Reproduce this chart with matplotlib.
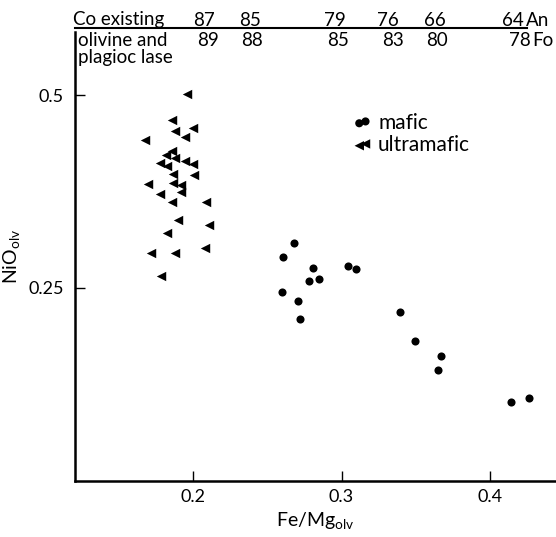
import matplotlib
matplotlib.use("Agg")
from matplotlib import pyplot as plt
from matplotlib.lines import Line2D

plt.rcParams['font.family'] = ['Lato', 'DejaVu Sans']
plt.rcParams['mathtext.fontset'] = 'custom'
plt.rcParams['mathtext.rm'] = 'Lato'

# mafic samples (circles)
mafic_fe_mg = [0.268, 0.261, 0.281, 0.304, 0.310, 0.278, 0.285, 0.260,
               0.271, 0.272, 0.339, 0.349, 0.367, 0.365, 0.414, 0.426]
mafic_nio = [0.308, 0.290, 0.276, 0.278, 0.275, 0.259, 0.261, 0.245,
             0.233, 0.209, 0.219, 0.181, 0.161, 0.144, 0.102, 0.107]

# ultramafic samples (triangles)
ultra_fe_mg = [0.196, 0.186, 0.200, 0.188, 0.195, 0.168, 0.186, 0.182,
               0.188, 0.195, 0.200, 0.178, 0.183, 0.187, 0.201, 0.170,
               0.187, 0.192, 0.192, 0.178, 0.186, 0.209, 0.190, 0.211,
               0.183, 0.208, 0.172, 0.188, 0.179]
ultra_nio = [0.502, 0.468, 0.458, 0.454, 0.446, 0.442, 0.428, 0.422,
             0.418, 0.415, 0.411, 0.412, 0.408, 0.398, 0.397, 0.385,
             0.386, 0.383, 0.374, 0.372, 0.362, 0.362, 0.338, 0.331,
             0.321, 0.302, 0.295, 0.295, 0.266]

x_ticks = [0.2, 0.3, 0.4]
y_ticks = [0.25, 0.5]

# coexisting plagioclase An / olivine Fo scale along the top
an_labels = ["87", "85", "79", "76", "66", "64"]
fo_labels = ["89", "88", "85", "83", "80", "78"]

W, H = 556, 537
fig = plt.figure(figsize=(W / 100, H / 100), dpi=100)


def fx(px):
    return px / W


def fy(py):
    return 1 - py / H


ax = fig.add_axes([fx(75), fy(480.5), fx(556) - fx(75), fy(32) - fy(480.5)])

ax.scatter(mafic_fe_mg, mafic_nio, marker='o', s=34, c='black',
           linewidths=0, label='mafic')
ax.scatter(ultra_fe_mg, ultra_nio, marker='<', s=46, c='black',
           linewidths=0, label='ultramafic')

ax.set_xlim(0.121, 0.444)
ax.set_ylim(0.0, 0.582)
ax.set_xticks(x_ticks)
ax.set_xticklabels([f"{v:.1f}" for v in x_ticks])
ax.set_yticks(y_ticks)
ax.set_yticklabels(["0.25", "0.5"])
ax.tick_params(direction='in', length=7, width=1, labelsize=13, pad=6)
ax.tick_params(axis='y', pad=8)

for s in ['top', 'right']:
    ax.spines[s].set_visible(False)
for s in ['left', 'bottom']:
    ax.spines[s].set_linewidth(1.8)

ax.set_xlabel(r"Fe/Mg$_{\rm olv}$", fontsize=14, labelpad=4)
ax.set_ylabel(r"NiO$_{\rm olv}$", fontsize=14, labelpad=4)

leg = ax.legend(frameon=False, scatterpoints=2, fontsize=15,
                loc='upper left', bbox_to_anchor=(0.578, 0.82),
                handlelength=0.9, handletextpad=0.3, labelspacing=0.12,
                borderpad=0, borderaxespad=0)

# top scale: line and labels
fig.add_artist(Line2D([fx(75), fx(527)], [fy(28), fy(28)],
                      color='black', linewidth=1.5))
an_x = [204, 250, 335, 388, 435, 513]
fo_x = [208, 252, 338, 393, 437, 520]
fs = 13.5
fig.text(fx(73), fy(20), "Co existing", fontsize=fs, ha='left', va='center')
for lab, px in zip(an_labels, an_x):
    fig.text(fx(px), fy(20), lab, fontsize=fs, ha='center', va='center')
fig.text(fx(526), fy(20), "An", fontsize=fs, ha='left', va='center')
fig.text(fx(78), fy(41), "olivine and", fontsize=fs, ha='left', va='center')
fig.text(fx(78), fy(58), "plagioc lase", fontsize=fs, ha='left', va='center')
for lab, px in zip(fo_labels, fo_x):
    fig.text(fx(px), fy(41), lab, fontsize=fs, ha='center', va='center')
fig.text(fx(532), fy(41), "Fo", fontsize=fs, ha='left', va='center')

fig.savefig("out.png", dpi=100)
